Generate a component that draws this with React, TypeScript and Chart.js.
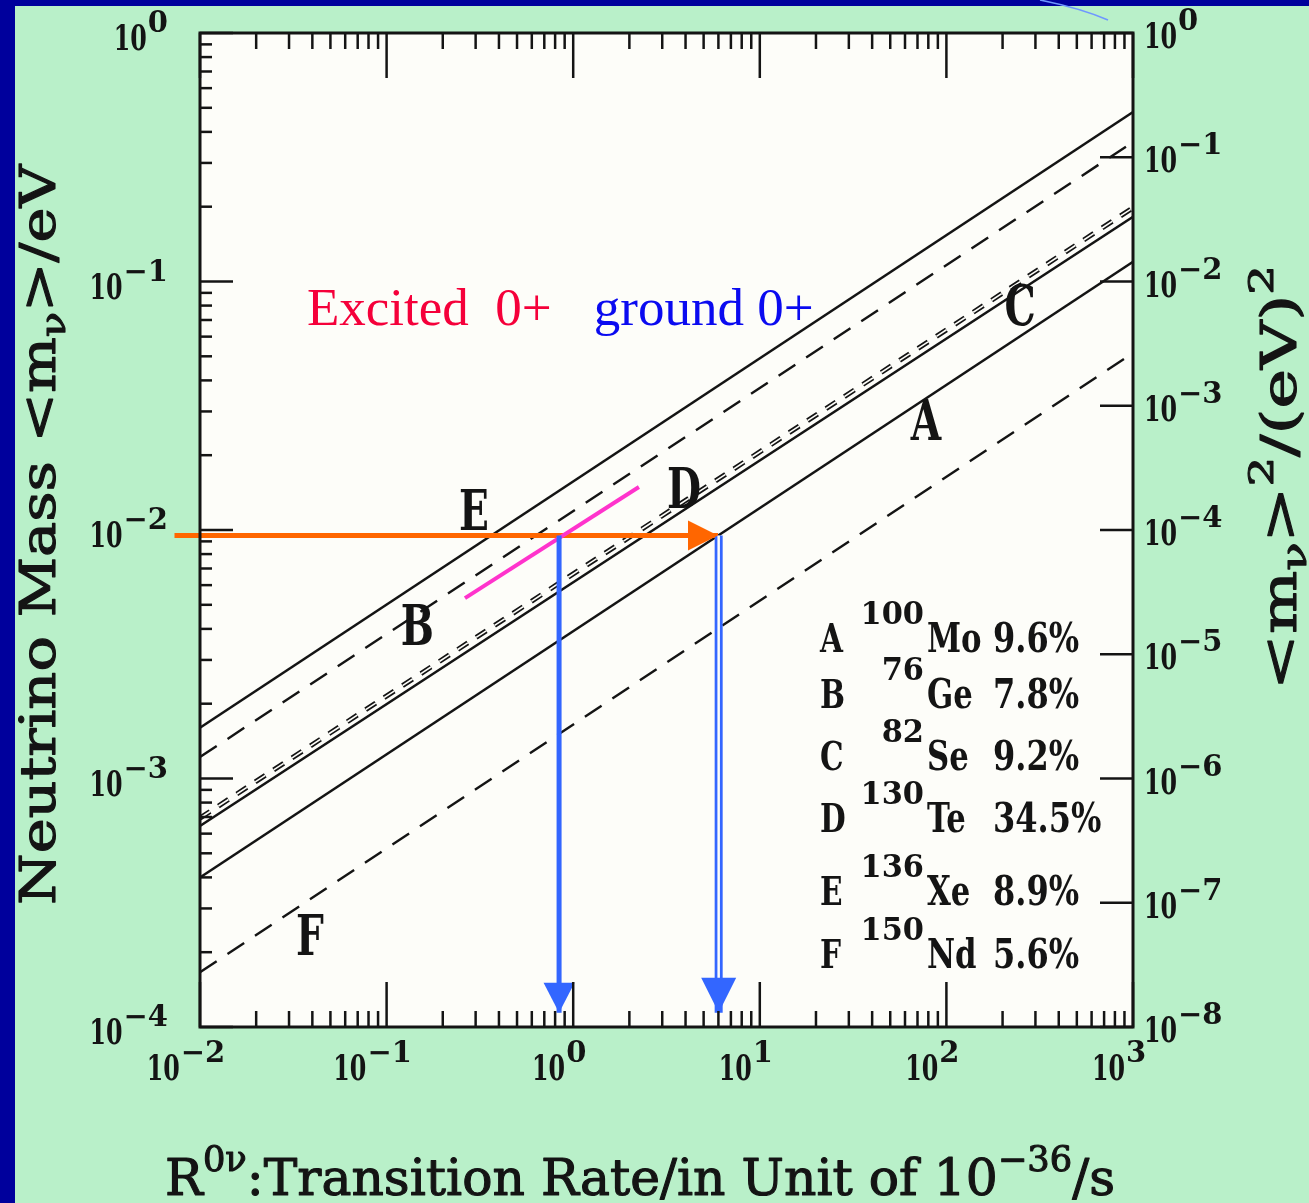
import React, { useEffect, useRef } from 'react';
import { Chart, registerables } from 'chart.js';

Chart.register(...registerables);

// ---------------- data ----------------
const RATE_ENDS = [1e-2, 1e3]; // transition rate R (1e-36/s) at the two plot edges
const massA = [4.0e-4, 0.12]; // 100Mo
const massB = [1.22e-3, 0.364]; // 76Ge
const massC = [6.44e-4, 0.182]; // 82Se
const massD = [6.93e-4, 0.198]; // 130Te
const massE = [1.6e-3, 0.481]; // 136Xe
const massF = [1.66e-4, 0.0516]; // 150Nd

const curveLetters = ['A', 'B', 'C', 'D', 'E', 'F'];
const curveLetterR = [77.8, 0.146, 248, 3.93, 0.294, 0.0388];
const curveLetterM = [0.023, 3.44e-3, 0.0668, 0.0123, 0.01, 1.95e-4];

const isoLetters = ['A', 'B', 'C', 'D', 'E', 'F'];
const isoMass = ['100', '76', '82', '130', '136', '150'];
const isoElem = ['Mo', 'Ge', 'Se', 'Te', 'Xe', 'Nd'];
const isoAbund = ['9.6%', '7.8%', '9.2%', '34.5%', '8.9%', '5.6%'];

// guide arrows (R, m)
const orangeR = [7.3e-3, 5.97];
const orangeM = [9.5e-3, 9.5e-3];
const arrow1R = [0.84, 0.84];
const arrow1M = [9.5e-3, 1.14e-4];
const arrow2R = [6.02, 6.02];
const arrow2M = [9.5e-3, 1.14e-4];
const pinkR = [0.263, 2.25];
const pinkM = [5.32e-3, 1.49e-2];

const xExps = [-2, -1, 0, 1, 2, 3];
const yExps = [-4, -3, -2, -1, 0];
const y2Exps = [-8, -7, -6, -5, -4, -3, -2, -1, 0];

const textExcited = 'Excited  0+';
const textGround = 'ground 0+';
const excitedAt = { r: 0.0374, m: 0.0668 };
const groundAt = { r: 1.29, m: 0.0668 };

// ---------------- style ----------------
const W = 1309;
const H = 1203;
const INK = '#141414';
const PLOT_BG = '#fdfdf9';
const GREEN = '#b9f0c9';
const NAVY = '#00009c';
const ORANGE = '#ff6600';
const BLUE = '#3366ff';
const PINK = '#ff33cc';
const SERIF = "'DejaVu Serif', serif";
const TIMES = "'Liberation Serif', 'Times New Roman', serif";

const pts = (xs: number[], ys: number[]) => xs.map((x, i) => ({ x, y: ys[i] }));

type Seg = { t: string; k?: 'sup' | 'sub' };

function font(ctx: CanvasRenderingContext2D, weight: string, size: number, fam: string) {
  ctx.font = `${weight} ${size}px ${fam}`;
}

function drawScaled(
  ctx: CanvasRenderingContext2D,
  text: string,
  x: number,
  y: number,
  weight: string,
  size: number,
  sx: number,
  align: 'left' | 'right' | 'center',
  fam = SERIF
) {
  font(ctx, weight, size, fam);
  const w = ctx.measureText(text).width * sx;
  const x0 = align === 'left' ? x : align === 'right' ? x - w : x - w / 2;
  ctx.save();
  ctx.translate(x0, y);
  ctx.scale(sx, 1);
  ctx.textAlign = 'left';
  ctx.textBaseline = 'alphabetic';
  ctx.fillText(text, 0, 0);
  ctx.restore();
  return w;
}

function drawPow(ctx: CanvasRenderingContext2D, exp: number, x: number, baseline: number, align: 'left' | 'right' | 'center') {
  const base = '10';
  const ex = exp < 0 ? '\u2212' + Math.abs(exp) : String(exp);
  const bs = 36, bsx = 0.66, es = 29, esx = 1.0;
  font(ctx, 'bold', bs, SERIF);
  const bw = ctx.measureText(base).width * bsx;
  font(ctx, 'bold', es, SERIF);
  const ew = ctx.measureText(ex).width * esx;
  const total = bw + 1 + ew;
  const x0 = align === 'left' ? x : align === 'right' ? x - total : x - total / 2;
  drawScaled(ctx, base, x0, baseline, 'bold', bs, bsx, 'left');
  drawScaled(ctx, ex, x0 + bw + 1, baseline - 18, 'bold', es, esx, 'left');
}

function drawRich(
  ctx: CanvasRenderingContext2D,
  segs: Seg[],
  x: number,
  y: number,
  size: number,
  width: number,
  rotate: boolean,
  weight = 'normal'
) {
  const sub = size * 0.7;
  let total = 0;
  for (const s of segs) {
    font(ctx, weight, s.k ? sub : size, SERIF);
    total += ctx.measureText(s.t).width;
  }
  const sx = width / total;
  ctx.save();
  ctx.translate(x, y);
  if (rotate) ctx.rotate(-Math.PI / 2);
  ctx.scale(sx, 1);
  ctx.textAlign = 'left';
  ctx.textBaseline = 'alphabetic';
  ctx.strokeStyle = ctx.fillStyle as string;
  ctx.lineWidth = 1.1;
  ctx.lineJoin = 'round';
  let cx = 0;
  for (const s of segs) {
    font(ctx, weight, s.k ? sub : size, SERIF);
    const dy = s.k === 'sup' ? -size * 0.48 : s.k === 'sub' ? size * 0.2 : 0;
    ctx.fillText(s.t, cx, dy);
    ctx.strokeText(s.t, cx, dy);
    cx += ctx.measureText(s.t).width;
  }
  ctx.restore();
}

function line(ctx: CanvasRenderingContext2D, x1: number, y1: number, x2: number, y2: number) {
  ctx.beginPath();
  ctx.moveTo(x1, y1);
  ctx.lineTo(x2, y2);
  ctx.stroke();
}

const bgPlugin = {
  id: 'bg',
  beforeDraw(chart: any) {
    const ctx: CanvasRenderingContext2D = chart.ctx;
    const { left, right, top, bottom } = chart.chartArea;
    ctx.save();
    ctx.fillStyle = GREEN;
    ctx.fillRect(0, 0, W, H);
    ctx.fillStyle = NAVY;
    ctx.fillRect(0, 0, W, 6);
    ctx.fillRect(0, 0, 15, H);
    ctx.strokeStyle = '#6f97ff';
    ctx.lineWidth = 1.5;
    ctx.beginPath();
    ctx.moveTo(1040, 0);
    ctx.quadraticCurveTo(1080, 8, 1108, 20);
    ctx.stroke();
    ctx.fillStyle = PLOT_BG;
    ctx.fillRect(left, top, right - left, bottom - top);
    ctx.restore();
  },
};

function head(ctx: CanvasRenderingContext2D, chart: any, rs: number[], ms: number[], len: number, half: number, color: string) {
  const xs = chart.scales.x, ys = chart.scales.y;
  const n = rs.length;
  const tx = xs.getPixelForValue(rs[n - 1]);
  const ty = ys.getPixelForValue(ms[n - 1]);
  const px = xs.getPixelForValue(rs[n - 2]);
  const py = ys.getPixelForValue(ms[n - 2]);
  const d = Math.hypot(tx - px, ty - py);
  const ux = (tx - px) / d, uy = (ty - py) / d;
  const bx = tx - ux * len, by = ty - uy * len;
  ctx.fillStyle = color;
  ctx.beginPath();
  ctx.moveTo(tx, ty);
  ctx.lineTo(bx - uy * half, by + ux * half);
  ctx.lineTo(bx + uy * half, by - ux * half);
  ctx.closePath();
  ctx.fill();
}

const overlayPlugin = {
  id: 'overlay',
  afterDatasetsDraw(chart: any) {
    const ctx: CanvasRenderingContext2D = chart.ctx;
    ctx.save();
    head(ctx, chart, orangeR, orangeM, 30, 15, ORANGE);
    head(ctx, chart, arrow1R, arrow1M, 30, 15.5, BLUE);
    head(ctx, chart, arrow2R, arrow2M, 35, 17.5, BLUE);
    ctx.restore();
  },
  afterDraw(chart: any) {
    const ctx: CanvasRenderingContext2D = chart.ctx;
    const xs = chart.scales.x, ys = chart.scales.y, y2 = chart.scales.y2;
    const { left, right, top, bottom } = chart.chartArea;
    ctx.save();
    // frame
    ctx.strokeStyle = INK;
    ctx.lineWidth = 3;
    ctx.strokeRect(left, top, right - left, bottom - top);
    // ticks
    ctx.lineWidth = 2.5;
    for (let k = -2; k <= 3; k++) {
      for (let j = 1; j <= 9; j++) {
        const v = j * Math.pow(10, k);
        if (v > 1e3 * 1.0001) continue;
        const p = xs.getPixelForValue(v);
        const len = j === 1 ? 45 : 16;
        line(ctx, p, bottom, p, bottom - len);
        line(ctx, p, top, p, top + len);
      }
    }
    for (let k = -4; k <= 0; k++) {
      for (let j = 1; j <= 9; j++) {
        const v = j * Math.pow(10, k);
        if (v > 1.0001) continue;
        const p = ys.getPixelForValue(v);
        line(ctx, left, p, left + (j === 1 ? 33 : 12), p);
      }
    }
    for (const e of y2Exps) {
      const p = y2.getPixelForValue(Math.pow(10, e));
      line(ctx, right, p, right - 33, p);
    }
    // tick labels
    ctx.fillStyle = INK;
    for (const e of yExps) drawPow(ctx, e, left - 32, ys.getPixelForValue(Math.pow(10, e)) + 17, 'right');
    for (const e of y2Exps) drawPow(ctx, e, right + 11, y2.getPixelForValue(Math.pow(10, e)) + 15, 'left');
    for (const e of xExps) drawPow(ctx, e, xs.getPixelForValue(Math.pow(10, e)) - 14, bottom + 53, 'center');

    // axis titles
    drawRich(
      ctx,
      [{ t: 'R' }, { t: '0\u03bd', k: 'sup' }, { t: ':Transition Rate/in Unit of 10' }, { t: '\u221236', k: 'sup' }, { t: '/s' }],
      165, 1195, 50, 950, false
    );
    drawRich(ctx, [{ t: 'Neutrino Mass <m' }, { t: '\u03bd', k: 'sub' }, { t: '>/eV' }], 55, 905, 48, 740, true);
    drawRich(
      ctx,
      [{ t: '<m' }, { t: '\u03bd', k: 'sub' }, { t: '>' }, { t: '2', k: 'sup' }, { t: '/(eV)' }, { t: '2', k: 'sup' }],
      1296, 690, 48, 425, true
    );

    // curve letters
    for (let i = 0; i < curveLetters.length; i++) {
      const px = xs.getPixelForValue(curveLetterR[i]);
      const py = ys.getPixelForValue(curveLetterM[i]);
      drawScaled(ctx, curveLetters[i], px, py, 'bold', 56, 0.7, 'center');
    }

    // isotope legend
    const lx = left + 620;
    const rowY = [619, 675, 737, 799, 872, 935].map((d) => top + d);
    for (let i = 0; i < isoLetters.length; i++) {
      const by = rowY[i];
      drawScaled(ctx, isoLetters[i], lx, by, 'bold', 40, 0.74, 'left');
      drawScaled(ctx, isoMass[i], lx + 104, by - 28, 'bold', 31, 0.98, 'right');
      drawScaled(ctx, isoElem[i], lx + 107, by, 'bold', 41, 0.75, 'left');
      drawScaled(ctx, isoAbund[i], lx + 173, by, 'bold', 41, 0.78, 'left');
    }

    // excited / ground annotation
    ctx.fillStyle = '#f5003a';
    drawScaled(ctx, textExcited, xs.getPixelForValue(excitedAt.r), ys.getPixelForValue(excitedAt.m), 'normal', 53, 1, 'left', TIMES);
    ctx.fillStyle = '#0a0af0';
    drawScaled(ctx, textGround, xs.getPixelForValue(groundAt.r), ys.getPixelForValue(groundAt.m), 'normal', 53, 1, 'left', TIMES);
    ctx.restore();
  },
};

function curve(label: string, ms: number[], dash: number[], order: number, width = 2.4, color = INK) {
  return {
    label,
    data: pts(RATE_ENDS, ms),
    showLine: true,
    borderColor: color,
    borderWidth: width,
    borderDash: dash,
    pointRadius: 0,
    order,
  };
}

export default function App() {
  const ref = useRef<HTMLCanvasElement>(null);
  useEffect(() => {
    const canvas = ref.current!;
    const datasets: any[] = [
      { label: 'arrow2 gap', data: pts(arrow2R, arrow2M.map((m, i) => (i === 1 ? m * 1.25 : m))), showLine: true, borderColor: PLOT_BG, borderWidth: 2.5, pointRadius: 0, order: 0 },
      { label: 'arrow2', data: pts(arrow2R, arrow2M), showLine: true, borderColor: BLUE, borderWidth: 8, pointRadius: 0, order: 1 },
      { label: 'arrow1', data: pts(arrow1R, arrow1M), showLine: true, borderColor: BLUE, borderWidth: 5, pointRadius: 0, order: 2 },
      { label: 'excited', data: pts(pinkR, pinkM), showLine: true, borderColor: PINK, borderWidth: 4, pointRadius: 0, order: 3 },
      { label: 'orange', data: pts(orangeR, orangeM), showLine: true, borderColor: ORANGE, borderWidth: 5, pointRadius: 0, order: 4, clip: false },
      curve('D inner', massD, [12, 10], 5, 1.6, PLOT_BG),
      curve('D 130Te', massD, [12, 10], 6, 5),
      curve('A 100Mo', massA, [], 7),
      curve('B 76Ge', massB, [20, 13], 7),
      curve('C 82Se', massC, [], 7),
      curve('E 136Xe', massE, [], 7),
      curve('F 150Nd', massF, [20, 13], 7),
    ];
    const chart = new Chart(canvas, {
      type: 'scatter',
      data: { datasets },
      options: {
        responsive: false,
        animation: false,
        devicePixelRatio: 1,
        events: [],
        layout: { padding: { left: 200, top: 33, right: 176, bottom: 176 } },
        plugins: { legend: { display: false }, tooltip: { enabled: false } },
        scales: {
          x: { type: 'logarithmic', min: 1e-2, max: 1e3, display: false },
          y: { type: 'logarithmic', min: 1e-4, max: 1, display: false },
          y2: { type: 'logarithmic', position: 'right', min: 1e-8, max: 1, display: false },
        },
      } as any,
      plugins: [bgPlugin, overlayPlugin],
    });
    return () => chart.destroy();
  }, []);
  return (
    <div style={{ position: 'fixed', left: 0, top: 0, width: W, height: H }}>
      <canvas ref={ref} width={W} height={H} style={{ display: 'block', width: W, height: H }} />
    </div>
  );
}
